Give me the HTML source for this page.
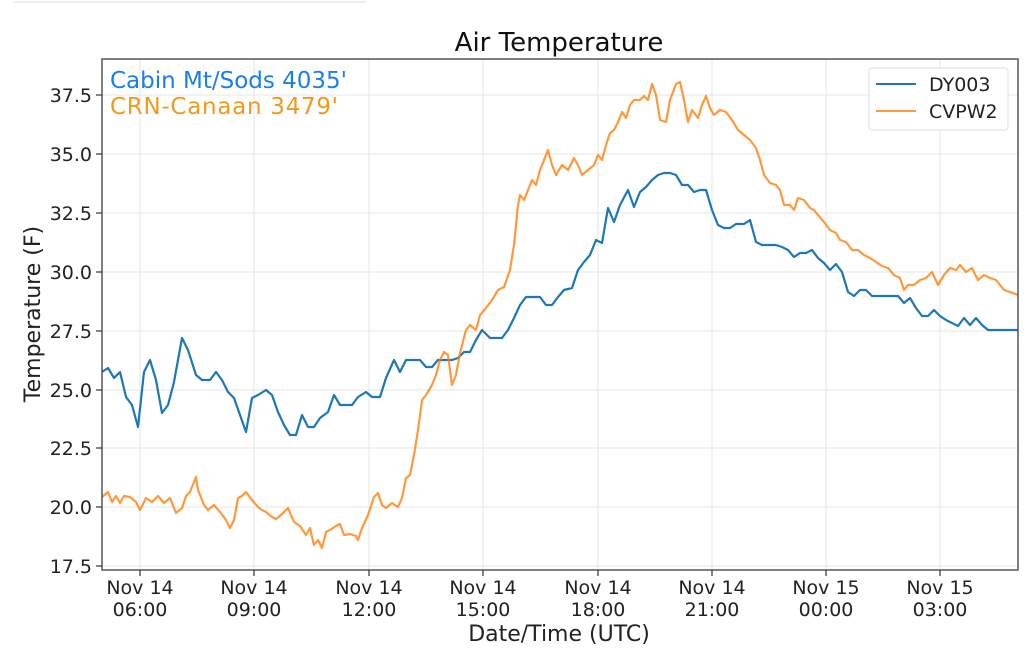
<!DOCTYPE html>
<html><head><style>body{margin:0;background:#fff}svg{display:block}</style></head>
<body>
<svg width="1024" height="657" xmlns="http://www.w3.org/2000/svg" font-family="DejaVu Sans, sans-serif">
<rect width="1024" height="657" fill="#fff"/>
<line x1="14" y1="2" x2="366" y2="2" stroke="#eee" stroke-width="2"/>
<g stroke="#e6e6e6" stroke-width="1">
<line x1="140" y1="59" x2="140" y2="570"/><line x1="254" y1="59" x2="254" y2="570"/><line x1="369" y1="59" x2="369" y2="570"/><line x1="483" y1="59" x2="483" y2="570"/><line x1="598" y1="59" x2="598" y2="570"/><line x1="712" y1="59" x2="712" y2="570"/><line x1="826" y1="59" x2="826" y2="570"/><line x1="940" y1="59" x2="940" y2="570"/>
<line x1="102" y1="95" x2="1018" y2="95"/><line x1="102" y1="154" x2="1018" y2="154"/><line x1="102" y1="213" x2="1018" y2="213"/><line x1="102" y1="272" x2="1018" y2="272"/><line x1="102" y1="331" x2="1018" y2="331"/><line x1="102" y1="390" x2="1018" y2="390"/><line x1="102" y1="448" x2="1018" y2="448"/><line x1="102" y1="507" x2="1018" y2="507"/><line x1="102" y1="566" x2="1018" y2="566"/>
</g>
<polyline fill="none" stroke="#1f77b4" stroke-width="2.2" stroke-linejoin="round" points="102,372 108,368 114,378 120,372 126,397 132,405 138,427 144,372 150,360 156,380 162,413 168,405 174,382 182,338 188,350 196,375 202,380 210,380 216,372 222,380 228,392 234,398 240,415 246,432 252,398 258,395 266,390 272,395 278,412 284,425 290,435 296,435 302,415 308,427 314,427 320,418 328,412 334,395 340,405 346,405 352,405 358,397 366,392 372,397 380,397 386,378 394,360 400,372 406,360 414,360 420,360 426,367 432,367 438,360 444,360 452,360 458,358 464,352 470,352 476,340 482,330 490,338 496,338 502,338 508,330 514,318 520,305 526,297 534,297 540,297 546,305 552,305 558,297 564,290 572,288 578,270 584,262 590,255 596,240 602,243 608,208 614,222 620,205 628,190 634,207 640,192 646,187 652,180 658,175 664,173 670,173 676,175 682,185 688,185 694,192 700,190 706,190 712,210 718,225 724,228 730,228 736,224 744,224 750,220 756,242 762,245 770,245 776,245 782,247 788,250 794,257 800,253 806,253 812,250 818,258 824,263 830,270 836,264 842,272 848,292 854,296 860,290 866,290 872,296 880,296 890,296 898,296 904,303 910,298 916,308 922,316 928,316 934,310 940,316 946,320 952,323 958,326 964,318 970,325 976,318 982,325 988,330 1000,330 1018,330"/>
<polyline fill="none" stroke="#ff7f0e" stroke-opacity="0.8" stroke-width="2.2" stroke-linejoin="round" points="102,497 108,492 112,502 116,496 120,503 124,496 130,497 136,502 140,510 146,498 152,502 158,496 164,503 170,498 176,513 182,508 186,496 190,492 196,477 198,490 204,505 208,510 214,505 220,512 226,520 230,528 234,520 238,498 242,496 246,492 252,500 258,507 262,510 266,512 272,517 276,519 282,514 288,508 294,522 300,526 306,535 310,528 314,545 318,540 322,548 326,532 330,530 336,526 340,524 344,535 350,534 356,536 358,540 362,528 368,515 374,497 378,493 382,505 386,508 392,503 398,507 402,498 406,478 410,475 414,455 418,430 422,400 426,395 432,385 436,375 440,360 444,352 448,355 452,385 456,375 460,353 466,330 470,325 476,330 480,315 486,308 492,300 498,290 504,287 510,270 514,245 518,205 520,195 524,200 528,190 532,180 536,185 540,170 544,160 548,150 552,165 556,175 562,165 568,170 574,158 578,165 582,175 588,170 594,165 598,155 602,160 606,145 610,133 614,130 618,122 622,112 626,118 630,105 634,100 640,100 644,96 648,100 652,84 656,95 660,120 666,122 670,100 676,84 680,82 684,100 688,122 692,110 698,118 702,105 706,96 710,108 714,115 720,110 726,112 732,120 738,130 744,135 750,140 756,148 760,160 764,175 770,183 776,185 780,190 784,205 790,205 794,210 798,198 804,200 810,208 814,210 818,215 824,222 830,230 836,233 840,240 846,242 852,250 858,250 864,255 870,258 876,262 882,266 888,268 894,275 900,278 904,290 908,285 914,285 920,280 926,278 932,272 938,285 944,275 950,268 956,270 960,265 966,272 972,268 978,280 984,275 990,278 996,280 1004,290 1010,292 1018,295"/>
<rect x="102" y="59" width="916" height="511" fill="none" stroke="#555" stroke-width="1.5"/>
<g stroke="#333" stroke-width="1.2">
<line x1="96" y1="95" x2="102" y2="95"/><line x1="96" y1="154" x2="102" y2="154"/><line x1="96" y1="213" x2="102" y2="213"/><line x1="96" y1="272" x2="102" y2="272"/><line x1="96" y1="331" x2="102" y2="331"/><line x1="96" y1="390" x2="102" y2="390"/><line x1="96" y1="448" x2="102" y2="448"/><line x1="96" y1="507" x2="102" y2="507"/><line x1="96" y1="566" x2="102" y2="566"/>
<line x1="140" y1="570" x2="140" y2="576"/><line x1="254" y1="570" x2="254" y2="576"/><line x1="369" y1="570" x2="369" y2="576"/><line x1="483" y1="570" x2="483" y2="576"/><line x1="598" y1="570" x2="598" y2="576"/><line x1="712" y1="570" x2="712" y2="576"/><line x1="826" y1="570" x2="826" y2="576"/><line x1="940" y1="570" x2="940" y2="576"/>
</g>
<g font-size="19" fill="#222" text-anchor="end">
<text x="92" y="102">37.5</text><text x="92" y="161">35.0</text><text x="92" y="220">32.5</text><text x="92" y="279">30.0</text><text x="92" y="338">27.5</text><text x="92" y="397">25.0</text><text x="92" y="455">22.5</text><text x="92" y="514">20.0</text><text x="92" y="573">17.5</text>
</g>
<g font-size="19" fill="#222" text-anchor="middle">
<text x="140" y="594">Nov 14</text><text x="140" y="616">06:00</text>
<text x="254" y="594">Nov 14</text><text x="254" y="616">09:00</text>
<text x="369" y="594">Nov 14</text><text x="369" y="616">12:00</text>
<text x="483" y="594">Nov 14</text><text x="483" y="616">15:00</text>
<text x="598" y="594">Nov 14</text><text x="598" y="616">18:00</text>
<text x="712" y="594">Nov 14</text><text x="712" y="616">21:00</text>
<text x="826" y="594">Nov 15</text><text x="826" y="616">00:00</text>
<text x="940" y="594">Nov 15</text><text x="940" y="616">03:00</text>
</g>
<text x="559" y="641" font-size="22" fill="#222" text-anchor="middle">Date/Time (UTC)</text>
<text x="40" y="314" font-size="22" fill="#222" text-anchor="middle" transform="rotate(-90 40 314)">Temperature (F)</text>
<text x="559" y="51" font-size="26" fill="#111" text-anchor="middle">Air Temperature</text>
<text x="110" y="88" font-size="23" fill="#1a7fe6" textLength="237">Cabin Mt/Sods 4035'</text>
<text x="110" y="114" font-size="23" fill="#ef9a1c" textLength="228">CRN-Canaan 3479'</text>
<rect x="869" y="68" width="139" height="62" rx="3" fill="#fff" fill-opacity="0.9" stroke="#ddd"/>
<line x1="876" y1="84" x2="916" y2="84" stroke="#1f77b4" stroke-width="2"/>
<line x1="876" y1="111" x2="916" y2="111" stroke="#ff7f0e" stroke-opacity="0.8" stroke-width="2"/>
<text x="929" y="91" font-size="19" fill="#222">DY003</text>
<text x="929" y="118" font-size="19" fill="#222">CVPW2</text>
</svg>
</body></html>
